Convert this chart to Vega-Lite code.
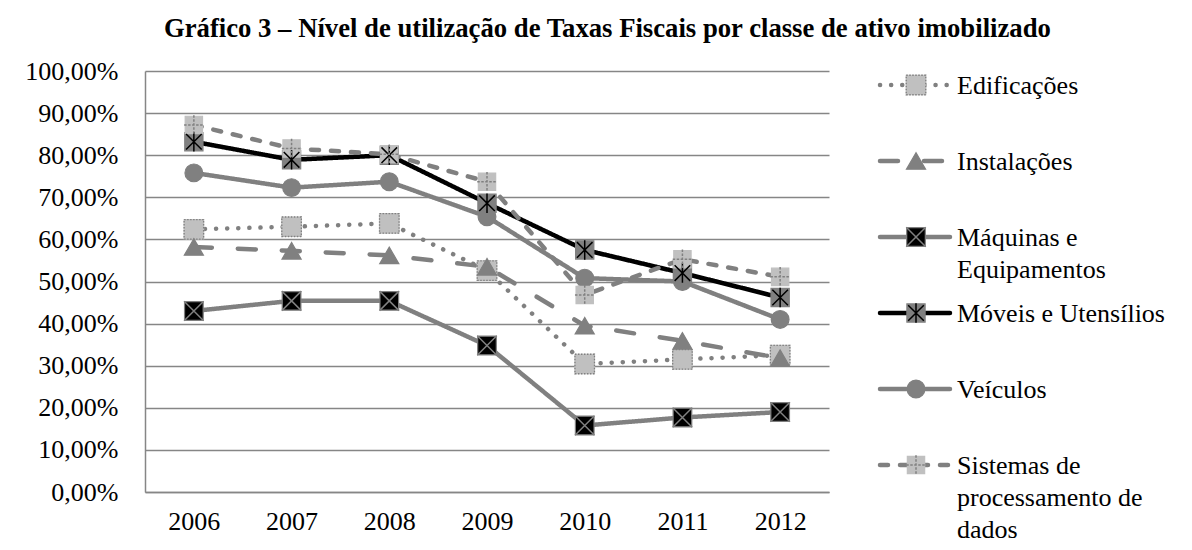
{
  "$schema": "https://vega.github.io/schema/vega-lite/v6.json",
  "padding": {"left": 24, "top": 16, "right": 0, "bottom": 0},
  "autosize": {"type": "pad"},
  "title": {
    "text": "Gráfico 3 – Nível de utilização de Taxas Fiscais por classe de ativo imobilizado",
    "font": "Liberation Serif, Times New Roman, DejaVu Serif, serif",
    "fontSize": 26.7,
    "fontWeight": "bold",
    "color": "#000000",
    "anchor": "middle",
    "offset": 15,
    "dx": 5
  },
  "config": {
    "view": {"stroke": null},
    "font": "Liberation Serif, Times New Roman, DejaVu Serif, serif",
    "text": {"lineBreak": "\n"}
  },
  "datasets": {
    "main": [
      {"serie": "Edificações", "ano": "2006", "valor": 62.4},
      {"serie": "Edificações", "ano": "2007", "valor": 63.0},
      {"serie": "Edificações", "ano": "2008", "valor": 63.8},
      {"serie": "Edificações", "ano": "2009", "valor": 52.6},
      {"serie": "Edificações", "ano": "2010", "valor": 30.4},
      {"serie": "Edificações", "ano": "2011", "valor": 31.5},
      {"serie": "Edificações", "ano": "2012", "valor": 32.5},
      {"serie": "Instalações", "ano": "2006", "valor": 58.2},
      {"serie": "Instalações", "ano": "2007", "valor": 57.3},
      {"serie": "Instalações", "ano": "2008", "valor": 56.2},
      {"serie": "Instalações", "ano": "2009", "valor": 53.5},
      {"serie": "Instalações", "ano": "2010", "valor": 39.5},
      {"serie": "Instalações", "ano": "2011", "valor": 35.9},
      {"serie": "Instalações", "ano": "2012", "valor": 31.8},
      {"serie": "Máquinas e Equipamentos", "ano": "2006", "valor": 43.0},
      {"serie": "Máquinas e Equipamentos", "ano": "2007", "valor": 45.4},
      {"serie": "Máquinas e Equipamentos", "ano": "2008", "valor": 45.4},
      {"serie": "Máquinas e Equipamentos", "ano": "2009", "valor": 34.8},
      {"serie": "Máquinas e Equipamentos", "ano": "2010", "valor": 15.8},
      {"serie": "Máquinas e Equipamentos", "ano": "2011", "valor": 17.7},
      {"serie": "Máquinas e Equipamentos", "ano": "2012", "valor": 19.0},
      {"serie": "Móveis e Utensílios", "ano": "2006", "valor": 83.2},
      {"serie": "Móveis e Utensílios", "ano": "2007", "valor": 78.9},
      {"serie": "Móveis e Utensílios", "ano": "2008", "valor": 80.0},
      {"serie": "Móveis e Utensílios", "ano": "2009", "valor": 68.6},
      {"serie": "Móveis e Utensílios", "ano": "2010", "valor": 57.5},
      {"serie": "Móveis e Utensílios", "ano": "2011", "valor": 52.0},
      {"serie": "Móveis e Utensílios", "ano": "2012", "valor": 46.2},
      {"serie": "Veículos", "ano": "2006", "valor": 75.8},
      {"serie": "Veículos", "ano": "2007", "valor": 72.3},
      {"serie": "Veículos", "ano": "2008", "valor": 73.7},
      {"serie": "Veículos", "ano": "2009", "valor": 65.4},
      {"serie": "Veículos", "ano": "2010", "valor": 50.8},
      {"serie": "Veículos", "ano": "2011", "valor": 50.0},
      {"serie": "Veículos", "ano": "2012", "valor": 41.0},
      {"serie": "Sistemas de processamento de dados", "ano": "2006", "valor": 87.2},
      {"serie": "Sistemas de processamento de dados", "ano": "2007", "valor": 81.6},
      {"serie": "Sistemas de processamento de dados", "ano": "2008", "valor": 80.2},
      {"serie": "Sistemas de processamento de dados", "ano": "2009", "valor": 73.7},
      {"serie": "Sistemas de processamento de dados", "ano": "2010", "valor": 46.8},
      {"serie": "Sistemas de processamento de dados", "ano": "2011", "valor": 55.3},
      {"serie": "Sistemas de processamento de dados", "ano": "2012", "valor": 51.1}
    ],
    "leg": [
      {"serie": "Edificações", "label": "Edificações"},
      {"serie": "Instalações", "label": "Instalações"},
      {"serie": "Máquinas e Equipamentos", "label": "Máquinas e\nEquipamentos"},
      {"serie": "Móveis e Utensílios", "label": "Móveis e Utensílios"},
      {"serie": "Veículos", "label": "Veículos"},
      {"serie": "Sistemas de processamento de dados", "label": "Sistemas de\nprocessamento de\ndados"}
    ]
  },
  "spacing": 48,
  "hconcat": [
    {
      "width": 684,
      "height": 421,
      "data": {"name": "main"},
      "encoding": {
        "x": {
          "field": "ano",
          "type": "ordinal",
          "scale": {"type": "point", "padding": 0.5},
          "axis": {
            "title": null,
            "labelAngle": 0,
            "labelFont": "Liberation Serif, Times New Roman, DejaVu Serif, serif",
            "labelFontSize": 26,
            "labelColor": "#000000",
            "labelPadding": 16,
            "ticks": false,
            "tickSize": 0,
            "grid": false,
            "domainColor": "#868686",
            "domainWidth": 1.5
          }
        },
        "y": {
          "field": "valor",
          "type": "quantitative",
          "scale": {"domain": [0, 100], "nice": false},
          "axis": {
            "title": null,
            "values": [0, 10, 20, 30, 40, 50, 60, 70, 80, 90, 100],
            "labelExpr": "replace(format(datum.value / 100, '.2%'), '.', ',')",
            "labelFont": "Liberation Serif, Times New Roman, DejaVu Serif, serif",
            "labelFontSize": 26,
            "labelColor": "#000000",
            "labelPadding": 27,
            "ticks": false,
            "tickSize": 0,
            "grid": true,
            "gridColor": "#868686",
            "gridWidth": 1.3,
            "domainColor": "#868686",
            "domainWidth": 1.5
          }
        }
      },
      "layer": [
        {
          "mark": {"type": "line", "strokeWidth": 4.5, "strokeCap": "round", "strokeJoin": "round"},
          "encoding": {
            "color": {
              "field": "serie",
              "type": "nominal",
              "scale": {
                "domain": ["Edificações", "Instalações", "Máquinas e Equipamentos", "Móveis e Utensílios", "Veículos", "Sistemas de processamento de dados"],
                "range": ["#808080", "#808080", "#808080", "#000000", "#808080", "#808080"]
              },
              "legend": null
            },
            "strokeDash": {
              "field": "serie",
              "type": "nominal",
              "scale": {
                "domain": ["Edificações", "Instalações", "Máquinas e Equipamentos", "Móveis e Utensílios", "Veículos", "Sistemas de processamento de dados"],
                "range": [[0.1, 11], [18, 26], [1, 0], [1, 0], [1, 0], [8, 12]]
              },
              "legend": null
            }
          }
        },
        {
          "mark": {"type": "point", "filled": true, "opacity": 1, "strokeWidth": 1.2},
          "encoding": {
            "shape": {
              "field": "serie",
              "type": "nominal",
              "scale": {
                "domain": ["Edificações", "Instalações", "Máquinas e Equipamentos", "Móveis e Utensílios", "Veículos", "Sistemas de processamento de dados"],
                "range": ["square", "triangle-up", "square", "square", "circle", "square"]
              },
              "legend": null
            },
            "fill": {
              "field": "serie",
              "type": "nominal",
              "scale": {
                "domain": ["Edificações", "Instalações", "Máquinas e Equipamentos", "Móveis e Utensílios", "Veículos", "Sistemas de processamento de dados"],
                "range": ["#c0c0c0", "#808080", "#000000", "#808080", "#808080", "#c0c0c0"]
              },
              "legend": null
            },
            "stroke": {
              "field": "serie",
              "type": "nominal",
              "scale": {
                "domain": ["Edificações", "Instalações", "Máquinas e Equipamentos", "Móveis e Utensílios", "Veículos", "Sistemas de processamento de dados"],
                "range": ["#c0c0c0", "#808080", "#808080", "#808080", "#808080", "#c0c0c0"]
              },
              "legend": null
            },
            "size": {
              "field": "serie",
              "type": "ordinal",
              "scale": {
                "domain": ["Edificações", "Instalações", "Máquinas e Equipamentos", "Móveis e Utensílios", "Veículos", "Sistemas de processamento de dados"],
                "range": [380, 300, 380, 380, 370, 380]
              },
              "legend": null
            }
          }
        },
        {
          "transform": [{"filter": "datum.serie === 'Edificações'"}],
          "mark": {"type": "point", "shape": "square", "size": 380, "filled": false, "opacity": 1, "stroke": "#808080", "strokeWidth": 1.3, "strokeDash": [1.5, 1.5]},
          "encoding": {}
        },
        {
          "transform": [{"filter": "datum.serie === 'Máquinas e Equipamentos'"}],
          "mark": {"type": "point", "shape": "M-1,-1L1,1M-1,1L1,-1", "size": 380, "filled": false, "opacity": 1, "stroke": "#808080", "strokeWidth": 1.5},
          "encoding": {}
        },
        {
          "transform": [{"filter": "datum.serie === 'Móveis e Utensílios'"}],
          "mark": {"type": "point", "shape": "M-0.8,-0.8L0.8,0.8M-0.8,0.8L0.8,-0.8M0,-1L0,1", "size": 380, "filled": false, "opacity": 1, "stroke": "#000000", "strokeWidth": 1.5},
          "encoding": {}
        },
        {
          "transform": [{"filter": "datum.serie === 'Sistemas de processamento de dados'"}],
          "mark": {"type": "point", "shape": "M0,-1L0,1M-1,0L1,0", "size": 380, "filled": false, "opacity": 1, "stroke": "#808080", "strokeWidth": 1.5, "strokeDash": [2.5, 1.5]},
          "encoding": {}
        }
      ]
    },
    {
      "width": 300,
      "height": 421,
      "data": {"name": "leg"},
      "encoding": {
        "y": {
          "field": "serie",
          "type": "nominal",
          "scale": {
            "type": "point",
            "domain": ["Edificações", "Instalações", "Máquinas e Equipamentos", "Móveis e Utensílios", "Veículos", "Sistemas de processamento de dados"],
            "range": [14, 394],
            "padding": 0
          },
          "axis": null
        }
      },
      "layer": [
        {
          "mark": {"type": "rule", "strokeWidth": 4.5, "strokeCap": "round"},
          "encoding": {
            "x": {"datum": 0, "type": "quantitative", "scale": {"domain": [0, 300]}, "axis": null},
            "x2": {"datum": 70},
            "color": {"field": "serie", "type": "nominal", "legend": null},
            "strokeDash": {"field": "serie", "type": "nominal", "legend": null}
          }
        },
        {
          "mark": {"type": "point", "filled": true, "opacity": 1, "strokeWidth": 1.2},
          "encoding": {
            "x": {"datum": 36, "type": "quantitative"},
            "shape": {"field": "serie", "type": "nominal", "legend": null},
            "fill": {"field": "serie", "type": "nominal", "legend": null},
            "stroke": {"field": "serie", "type": "nominal", "legend": null},
            "size": {"field": "serie", "type": "ordinal", "legend": null}
          }
        },
        {
          "transform": [{"filter": "datum.serie === 'Edificações'"}],
          "mark": {"type": "point", "shape": "square", "size": 380, "filled": false, "opacity": 1, "stroke": "#808080", "strokeWidth": 1.3, "strokeDash": [1.5, 1.5]},
          "encoding": {"x": {"datum": 36, "type": "quantitative"}}
        },
        {
          "transform": [{"filter": "datum.serie === 'Máquinas e Equipamentos'"}],
          "mark": {"type": "point", "shape": "M-1,-1L1,1M-1,1L1,-1", "size": 380, "filled": false, "opacity": 1, "stroke": "#808080", "strokeWidth": 1.5},
          "encoding": {"x": {"datum": 36, "type": "quantitative"}}
        },
        {
          "transform": [{"filter": "datum.serie === 'Móveis e Utensílios'"}],
          "mark": {"type": "point", "shape": "M-0.8,-0.8L0.8,0.8M-0.8,0.8L0.8,-0.8M0,-1L0,1", "size": 380, "filled": false, "opacity": 1, "stroke": "#000000", "strokeWidth": 1.5},
          "encoding": {"x": {"datum": 36, "type": "quantitative"}}
        },
        {
          "transform": [{"filter": "datum.serie === 'Sistemas de processamento de dados'"}],
          "mark": {"type": "point", "shape": "M0,-1L0,1M-1,0L1,0", "size": 380, "filled": false, "opacity": 1, "stroke": "#808080", "strokeWidth": 1.5, "strokeDash": [2.5, 1.5]},
          "encoding": {"x": {"datum": 36, "type": "quantitative"}}
        },
        {
          "mark": {"type": "text", "align": "left", "baseline": "alphabetic", "dy": 9, "font": "Liberation Serif, Times New Roman, DejaVu Serif, serif", "fontSize": 26, "color": "#000000", "lineHeight": 32, "lineBreak": "\n"},
          "encoding": {
            "x": {"datum": 77, "type": "quantitative"},
            "text": {"field": "label"}
          }
        }
      ]
    }
  ]
}
